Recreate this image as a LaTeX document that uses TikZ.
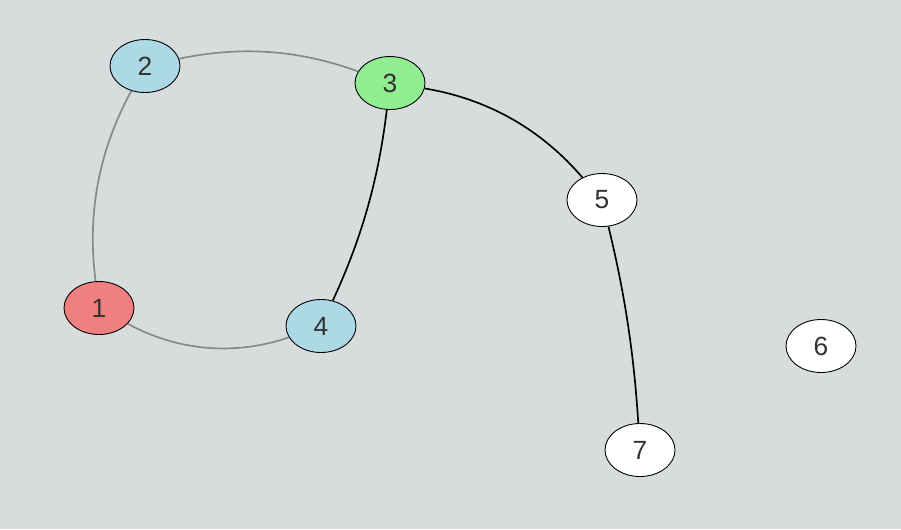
\documentclass[tikz,border=0pt]{standalone}
\usepackage{xcolor}
\usepackage{fontspec}
\setmainfont{Liberation Sans}
\usepackage{tikz}
\usetikzlibrary{shapes.geometric, arrows.meta, positioning}

\definecolor{bgcol}{HTML}{D7DCDD}
\definecolor{txtcol}{HTML}{333333}
\definecolor{edgegray}{HTML}{888888}
\definecolor{vblue}{HTML}{ADD8E6}
\definecolor{vgreen}{HTML}{90EE90}
\definecolor{vred}{HTML}{F08080}

\begin{document}
\begin{tikzpicture}[
    x=0.02cm, y=-0.02cm,
    vertex/.style={draw=black, line width=0.5pt, ellipse, minimum width=1.4cm, minimum height=1.06cm, inner sep=0pt, fill=#1, text=txtcol, font=\fontsize{15}{17}\selectfont},
    vertex/.default={white},
    soft/.style={draw=edgegray, line width=0.95pt, looseness=0.9},
    hard/.style={draw=black, line width=0.95pt, looseness=0.9}
]

\fill[bgcol] (0,0) rectangle (901,529);
\useasboundingbox (0,0) rectangle (901,529);

\node[vertex=vred] (v1) at (99, 308) {1};
\node[vertex=vblue] (v2) at (145, 66) {2};
\node[vertex=vgreen] (v3) at (390, 83) {3};
\node[vertex=vblue] (v4) at (321, 326) {4};
\node[vertex] (v5) at (602, 200) {5};
\node[vertex] (v6) at (821, 346) {6};
\node[vertex] (v7) at (640, 450) {7};

\draw[soft] (v2) to[bend left=16] (v3);
\draw[soft] (v2) to[bend right=18] (v1);
\draw[soft] (v1) to[bend right=24] (v4);
\draw[hard] (v3) to[bend left=9] (v4);
\draw[hard] (v3) to[bend left=20] (v5);
\draw[hard] (v5) to[bend left=5] (v7);

\end{tikzpicture}
\end{document}
